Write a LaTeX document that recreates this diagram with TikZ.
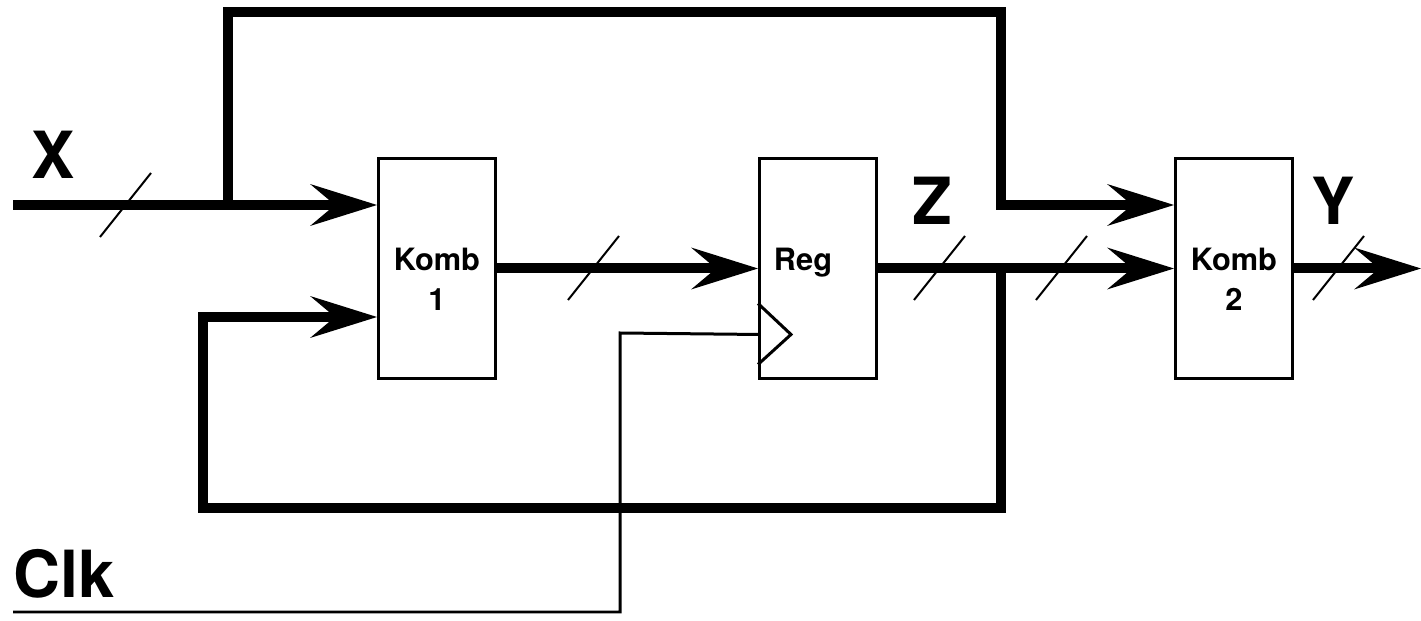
\documentclass[tikz,border=0pt]{standalone}
\usepackage{fontspec}
\setmainfont{TeX Gyre Heros}
\usetikzlibrary{arrows.meta,calc}

\begin{document}
\begin{tikzpicture}[x=0.02cm,y=-0.02cm,
  blk/.style={draw,line width=0.06cm,minimum width=2.34cm,minimum height=4.4cm,inner sep=0pt},
  bus/.style={line width=0.2cm},
  tobus/.style={bus,-{Stealth[length=13.4mm,width=8.4mm,inset=5mm,line width=0pt]}},
  slash/.style={line width=0.04cm},
  clkline/.style={line width=0.06cm},
  sig/.style={font=\fontsize{37}{40}\selectfont\bfseries,inner sep=0pt,anchor=base},
  txt/.style={font=\fontsize{17.5}{22.8}\selectfont\bfseries,align=center,inner sep=0pt}]
  \useasboundingbox (0,0) rectangle (1421,621);
  % blocks
  \node[blk] (komb1) at (437,268.5) {};
  \node[blk] (reg) at (818,268.5) {};
  \node[blk] (komb2) at (1234,268.5) {};
  \node[txt] (k1txt) at (437,279) {Komb\\1};
  \node[txt] (regtxt) at (803,263) {Reg};
  \node[txt] (k2txt) at (1234,279) {Komb\\2};
  % signal names
  \node[sig] (xlab) at (53,179) {X};
  \node[sig] (zlab) at (932,225) {Z};
  \node[sig] (ylab) at (1333,225) {Y};
  \node[sig,anchor=base west] (clklab) at (13,598) {Clk};
  % points on the wires
  \coordinate (xin) at (13,205);
  \coordinate (tap) at (228,205);
  \coordinate (topl) at (228,12);
  \coordinate (topr) at (1001,12);
  \coordinate (fb) at (1001,268.5);
  \coordinate (fbr) at (1001,508);
  \coordinate (fbl) at (203,317);
  \coordinate (yout) at (1421,268.5);
  \coordinate (clkin) at (13,612);
  \coordinate (clkup) at (620,333);
  \coordinate (ck) at ($(reg.south west)+(0,-45.5)$);
  % busses
  \draw[tobus] (xin) -- (komb1.west |- xin);
  \draw[tobus] (tap) -- (topl) -- (topr) -- (topr |- xin) -- (komb2.west |- xin);
  \draw[tobus] (komb1.east) -- (reg.west);
  \draw[tobus] (reg.east) -- (komb2.west);
  \draw[tobus] (fb) -- (fbr) -| (fbl) -- (komb1.west |- fbl);
  \draw[tobus] (komb2.east) -- (yout);
  % bus width marks
  \foreach \sx/\sy in {125/205,593/268,939/268,1061/268,1338/268}
    \draw[slash] (\sx,\sy) ++(-25,32) -- ++(51,-64);
  % clock
  \draw[clkline] (clkin) -| (clkup) -- (ck);
  \draw[clkline] ($(reg.south west)+(0,-76.5)$) -- ($(reg.south west)+(33,-45.5)$) -- ($(reg.south west)+(0,-15.5)$);
\end{tikzpicture}
\end{document}
